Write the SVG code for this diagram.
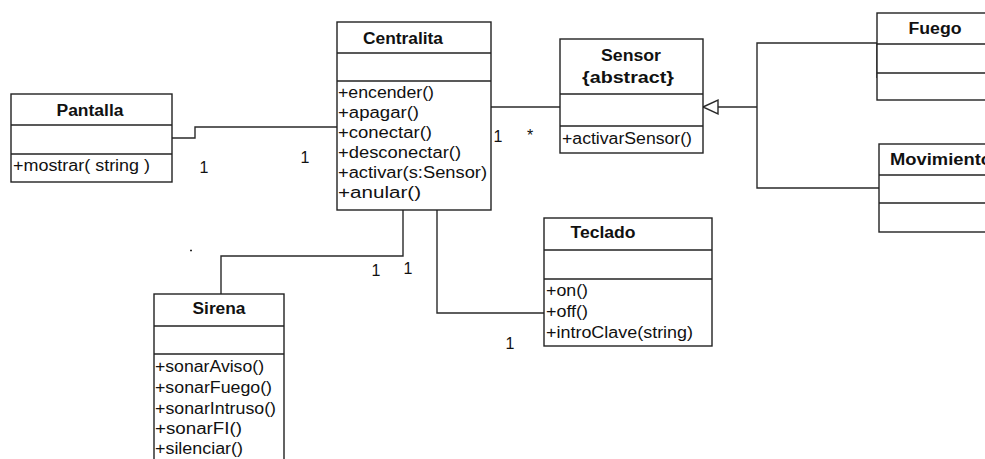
<svg xmlns="http://www.w3.org/2000/svg" width="985" height="459" viewBox="0 0 985 459">
<style>
.box{fill:#fff;stroke:#222;stroke-width:1.4}
.sep{stroke:#222;stroke-width:1.4}
.con{fill:none;stroke:#2a2a2a;stroke-width:1.4}
.t{font-family:"Liberation Sans",Arial,sans-serif;font-size:16px;font-weight:bold;fill:#111;text-anchor:middle}
.m{font-family:"Liberation Sans",Arial,sans-serif;font-size:16px;fill:#111}
.l{font-family:"Liberation Sans",Arial,sans-serif;font-size:16px;fill:#111;text-anchor:middle}
</style>
<rect width="985" height="459" fill="#fff"/>
<g id="connectors">
<polyline class="con" points="172,138 195,138 195,127 337,127"/>
<line class="con" x1="491" y1="107" x2="560" y2="107"/>
<polyline class="con" points="403,210 403,256 221,256 221,294"/>
<polyline class="con" points="437,210 437,313 544,313"/>
<polygon class="con" points="703,107 718,100 718,114"/>
<line class="con" x1="718" y1="107" x2="757" y2="107"/>
<polyline class="con" points="877,43 757,43 757,188 879,188"/>
<line class="con" x1="877" y1="43" x2="877" y2="78" stroke-width="2.4"/>
<line class="con" x1="190" y1="250.5" x2="192" y2="250.5" stroke-width="2"/>
<text class="l" x="204" y="173">1</text>
<text class="l" x="305" y="163">1</text>
<text class="l" x="498" y="142">1</text>
<text class="l" x="530" y="141">*</text>
<text class="l" x="376" y="276">1</text>
<text class="l" x="408" y="274">1</text>
<text class="l" x="510" y="349">1</text>
</g>
<g id="Pantalla">
<rect class="box" x="11" y="94" width="161" height="88"/>
<line class="sep" x1="11" y1="125" x2="172" y2="125"/>
<line class="sep" x1="11" y1="154" x2="172" y2="154"/>
<text class="t" x="90" y="116" textLength="67" lengthAdjust="spacingAndGlyphs">Pantalla</text>
<text class="m" x="13" y="171" textLength="137" lengthAdjust="spacingAndGlyphs">+mostrar( string )</text>
</g>
<g id="Centralita">
<rect class="box" x="337" y="22" width="154" height="188"/>
<line class="sep" x1="337" y1="53" x2="491" y2="53"/>
<line class="sep" x1="337" y1="81" x2="491" y2="81"/>
<text class="t" x="403" y="44" textLength="80" lengthAdjust="spacingAndGlyphs">Centralita</text>
<text class="m" x="338" y="98" textLength="96" lengthAdjust="spacingAndGlyphs">+encender()</text>
<text class="m" x="338" y="118" textLength="81" lengthAdjust="spacingAndGlyphs">+apagar()</text>
<text class="m" x="338" y="138" textLength="94" lengthAdjust="spacingAndGlyphs">+conectar()</text>
<text class="m" x="338" y="158" textLength="123" lengthAdjust="spacingAndGlyphs">+desconectar()</text>
<text class="m" x="338" y="178" textLength="149" lengthAdjust="spacingAndGlyphs">+activar(s:Sensor)</text>
<text class="m" x="338" y="198" textLength="83" lengthAdjust="spacingAndGlyphs">+anular()</text>
</g>
<g id="Sensor">
<rect class="box" x="560" y="39" width="143" height="114"/>
<line class="sep" x1="560" y1="94" x2="703" y2="94"/>
<line class="sep" x1="560" y1="126" x2="703" y2="126"/>
<text class="t" x="631" y="61" textLength="60" lengthAdjust="spacingAndGlyphs">Sensor</text>
<text class="t" x="628" y="83" textLength="92" lengthAdjust="spacingAndGlyphs">{abstract}</text>
<text class="m" x="562" y="144" textLength="130" lengthAdjust="spacingAndGlyphs">+activarSensor()</text>
</g>
<g id="Fuego">
<rect class="box" x="877" y="13" width="130" height="87"/>
<line class="sep" x1="877" y1="44" x2="1007" y2="44"/>
<line class="sep" x1="877" y1="73" x2="1007" y2="73"/>
<text class="t" x="935" y="34" textLength="53" lengthAdjust="spacingAndGlyphs">Fuego</text>
</g>
<g id="Movimiento">
<rect class="box" x="879" y="144" width="130" height="88"/>
<line class="sep" x1="879" y1="175" x2="1009" y2="175"/>
<line class="sep" x1="879" y1="203" x2="1009" y2="203"/>
<text class="m" x="890" y="165" font-weight="bold" textLength="102" lengthAdjust="spacingAndGlyphs">Movimiento</text>
</g>
<g id="Sirena">
<rect class="box" x="154" y="294" width="130" height="180"/>
<line class="sep" x1="154" y1="326" x2="284" y2="326"/>
<line class="sep" x1="154" y1="354" x2="284" y2="354"/>
<text class="t" x="219" y="314" textLength="53" lengthAdjust="spacingAndGlyphs">Sirena</text>
<text class="m" x="155" y="372" textLength="109" lengthAdjust="spacingAndGlyphs">+sonarAviso()</text>
<text class="m" x="155" y="393" textLength="117" lengthAdjust="spacingAndGlyphs">+sonarFuego()</text>
<text class="m" x="155" y="414" textLength="121" lengthAdjust="spacingAndGlyphs">+sonarIntruso()</text>
<text class="m" x="155" y="434" textLength="87" lengthAdjust="spacingAndGlyphs">+sonarFI()</text>
<text class="m" x="155" y="454" textLength="88" lengthAdjust="spacingAndGlyphs">+silenciar()</text>
</g>
<g id="Teclado">
<rect class="box" x="544" y="218" width="168" height="128"/>
<line class="sep" x1="544" y1="250" x2="712" y2="250"/>
<line class="sep" x1="544" y1="279" x2="712" y2="279"/>
<text class="t" x="603" y="238" textLength="65" lengthAdjust="spacingAndGlyphs">Teclado</text>
<text class="m" x="546" y="296" textLength="42" lengthAdjust="spacingAndGlyphs">+on()</text>
<text class="m" x="546" y="317" textLength="42" lengthAdjust="spacingAndGlyphs">+off()</text>
<text class="m" x="546" y="338" textLength="147" lengthAdjust="spacingAndGlyphs">+introClave(string)</text>
</g>
</svg>
